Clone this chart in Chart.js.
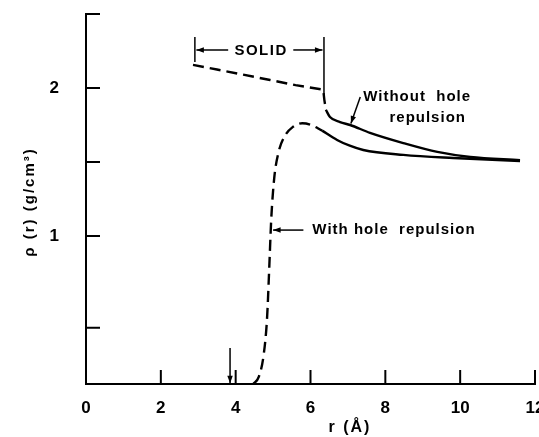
<!DOCTYPE html>
<html><head><meta charset="utf-8">
<script src="https://cdn.jsdelivr.net/npm/chart.js@4"></script>
<style>html,body{margin:0;padding:0;background:#fff;overflow:hidden;width:539px;height:437px}#wrap{width:550px;height:437px}</style>
</head><body><div id="wrap"><canvas id="c" width="550" height="437"></canvas></div>
<script>
// ---- data ----
const xTickValues = [0, 2, 4, 6, 8, 10, 12];
const yTickValues = [0.38, 1, 1.5, 2, 2.5];
const yTickLabels = {1: '1', 2: '2'};

// Without hole repulsion (solid phase, dashed)
const noHoleSolidR   = [2.86, 3.5, 4.2, 4.92, 5.6, 6.34, 6.37, 6.41];
const noHoleSolidRho = [2.156, 2.125, 2.09, 2.054, 2.019, 1.989, 1.92, 1.853];
// Without hole repulsion (liquid, solid line)
const noHoleLiqR   = [6.41, 6.52, 6.79, 7.06, 7.59, 8.48, 9.39, 10.27, 11.6];
const noHoleLiqRho = [1.853, 1.804, 1.77, 1.75, 1.697, 1.628, 1.568, 1.534, 1.513];
// With hole repulsion (solid phase, dashed)
const holeSolidR   = [4.47, 4.62, 4.75, 4.84, 4.9, 4.95, 5.03, 5.15, 5.3, 5.53, 5.78, 6.0, 6.31];
const holeSolidRho = [0, 0.05, 0.2, 0.45, 0.8, 1.11, 1.39, 1.57, 1.67, 1.737, 1.762, 1.752, 1.712];
// With hole repulsion (liquid, solid line)
const holeLiqR   = [6.31, 6.71, 7.05, 7.41, 8.48, 9.81, 11.6];
const holeLiqRho = [1.712, 1.649, 1.61, 1.581, 1.548, 1.527, 1.507];

const FONT = '"Liberation Sans", Arial, Helvetica, sans-serif';
const pts = (xs, ys) => xs.map((x, i) => ({x, y: ys[i]}));

function line(xs, ys, dashed, smooth) {
  return {
    data: pts(xs, ys), showLine: true, pointRadius: 0, borderColor: '#000',
    borderWidth: 2.4, borderDash: dashed ? [11, 6] : [], fill: false,
    cubicInterpolationMode: smooth ? 'monotone' : 'default', tension: 0
  };
}

function arrowHead(ctx, x1, y1, x2, y2, size) {
  const a = Math.atan2(y2 - y1, x2 - x1);
  ctx.beginPath();
  ctx.moveTo(x2, y2);
  ctx.lineTo(x2 - size * Math.cos(a - 0.35), y2 - size * Math.sin(a - 0.35));
  ctx.lineTo(x2 - size * Math.cos(a + 0.35), y2 - size * Math.sin(a + 0.35));
  ctx.closePath();
  ctx.fill();
}
function arrow(ctx, x1, y1, x2, y2) {
  ctx.beginPath(); ctx.moveTo(x1, y1); ctx.lineTo(x2, y2); ctx.stroke();
  arrowHead(ctx, x1, y1, x2, y2, 8);
}

const decor = {
  id: 'decor',
  afterDraw(chart) {
    const ctx = chart.ctx, xs = chart.scales.x, ys = chart.scales.y;
    const X = v => xs.getPixelForValue(v), Y = v => ys.getPixelForValue(v);
    const area = chart.chartArea;
    ctx.save();
    ctx.strokeStyle = '#000'; ctx.fillStyle = '#000';
    // inward ticks
    ctx.lineWidth = 2;
    xTickValues.forEach(v => { ctx.beginPath(); ctx.moveTo(X(v), area.bottom); ctx.lineTo(X(v), area.bottom - 14); ctx.stroke(); });
    yTickValues.forEach(v => { ctx.beginPath(); ctx.moveTo(area.left, Y(v)); ctx.lineTo(area.left + 14, Y(v)); ctx.stroke(); });

    ctx.lineWidth = 1.5;
    // SOLID bracket
    ctx.beginPath(); ctx.moveTo(X(2.91), Y(2.345)); ctx.lineTo(X(2.91), Y(2.176)); ctx.stroke();
    ctx.beginPath(); ctx.moveTo(X(6.36), Y(2.345)); ctx.lineTo(X(6.36), Y(1.94)); ctx.stroke();
    arrow(ctx, X(3.80), Y(2.257), X(2.95), Y(2.257));
    arrow(ctx, X(5.54), Y(2.257), X(6.32), Y(2.257));
    // Without hole arrow
    arrow(ctx, X(7.33), Y(1.94), X(7.08), Y(1.76));
    // With hole arrow
    arrow(ctx, X(5.81), Y(1.04), X(5.0), Y(1.04));
    // bottom arrow
    arrow(ctx, X(3.85), Y(0.243), X(3.85), Y(0.005));

    // texts
    ctx.textBaseline = 'middle';
    ctx.font = 'bold 15px ' + FONT;
    ctx.letterSpacing = '1.5px';
    ctx.textAlign = 'center';
    ctx.fillText('SOLID', X(4.68), Y(2.25));
    ctx.textAlign = 'left';
    ctx.letterSpacing = '1px';
    ctx.fillText('Without  hole', X(7.41), Y(1.94));
    ctx.fillText('repulsion', X(8.11), Y(1.80));
    ctx.fillText('With hole  repulsion', X(6.05), Y(1.04));

    // axis titles
    ctx.textAlign = 'center';
    ctx.font = 'bold 16px ' + FONT;
    ctx.letterSpacing = '2px';
    ctx.fillText('r (Å)', 350, 428);
    ctx.translate(30, 202);
    ctx.rotate(-Math.PI / 2);
    ctx.font = 'bold 15px ' + FONT;
    ctx.letterSpacing = '2px';
    ctx.fillText('ρ (r) (g/cm³)', 0, 0);
    ctx.restore();
  }
};

new Chart(document.getElementById('c'), {
  type: 'scatter',
  data: {
    datasets: [
      line(noHoleSolidR, noHoleSolidRho, true, false),
      line(noHoleLiqR, noHoleLiqRho, false, true),
      line(holeSolidR, holeSolidRho, true, true),
      line(holeLiqR, holeLiqRho, false, true)
    ]
  },
  options: {
    responsive: false, animation: false, devicePixelRatio: 1,
    layout: {padding: {top: 14, right: 15, left: 0, bottom: 0}},
    plugins: {legend: {display: false}, tooltip: {enabled: false}},
    scales: {
      x: {
        type: 'linear', min: 0, max: 12,
        afterBuildTicks: s => { s.ticks = xTickValues.map(v => ({value: v})); },
        afterFit: s => { s.height = 53; s.paddingLeft = 0; s.paddingRight = 0; },
        grid: {display: false},
        border: {display: true, color: '#000', width: 2},
        ticks: {color: '#000', font: {family: FONT, size: 17, weight: 'bold'}, padding: 6, maxRotation: 0, autoSkip: false}
      },
      y: {
        type: 'linear', min: 0, max: 2.5,
        afterBuildTicks: s => { s.ticks = yTickValues.map(v => ({value: v})); },
        afterFit: s => { s.width = 86; s.paddingTop = 0; s.paddingBottom = 0; },
        grid: {display: false},
        border: {display: true, color: '#000', width: 2},
        ticks: {color: '#000', font: {family: FONT, size: 17, weight: 'bold'}, padding: 19, autoSkip: false,
                callback: v => yTickLabels[v] || ''}
      }
    }
  },
  plugins: [decor]
});
</script></body></html>
